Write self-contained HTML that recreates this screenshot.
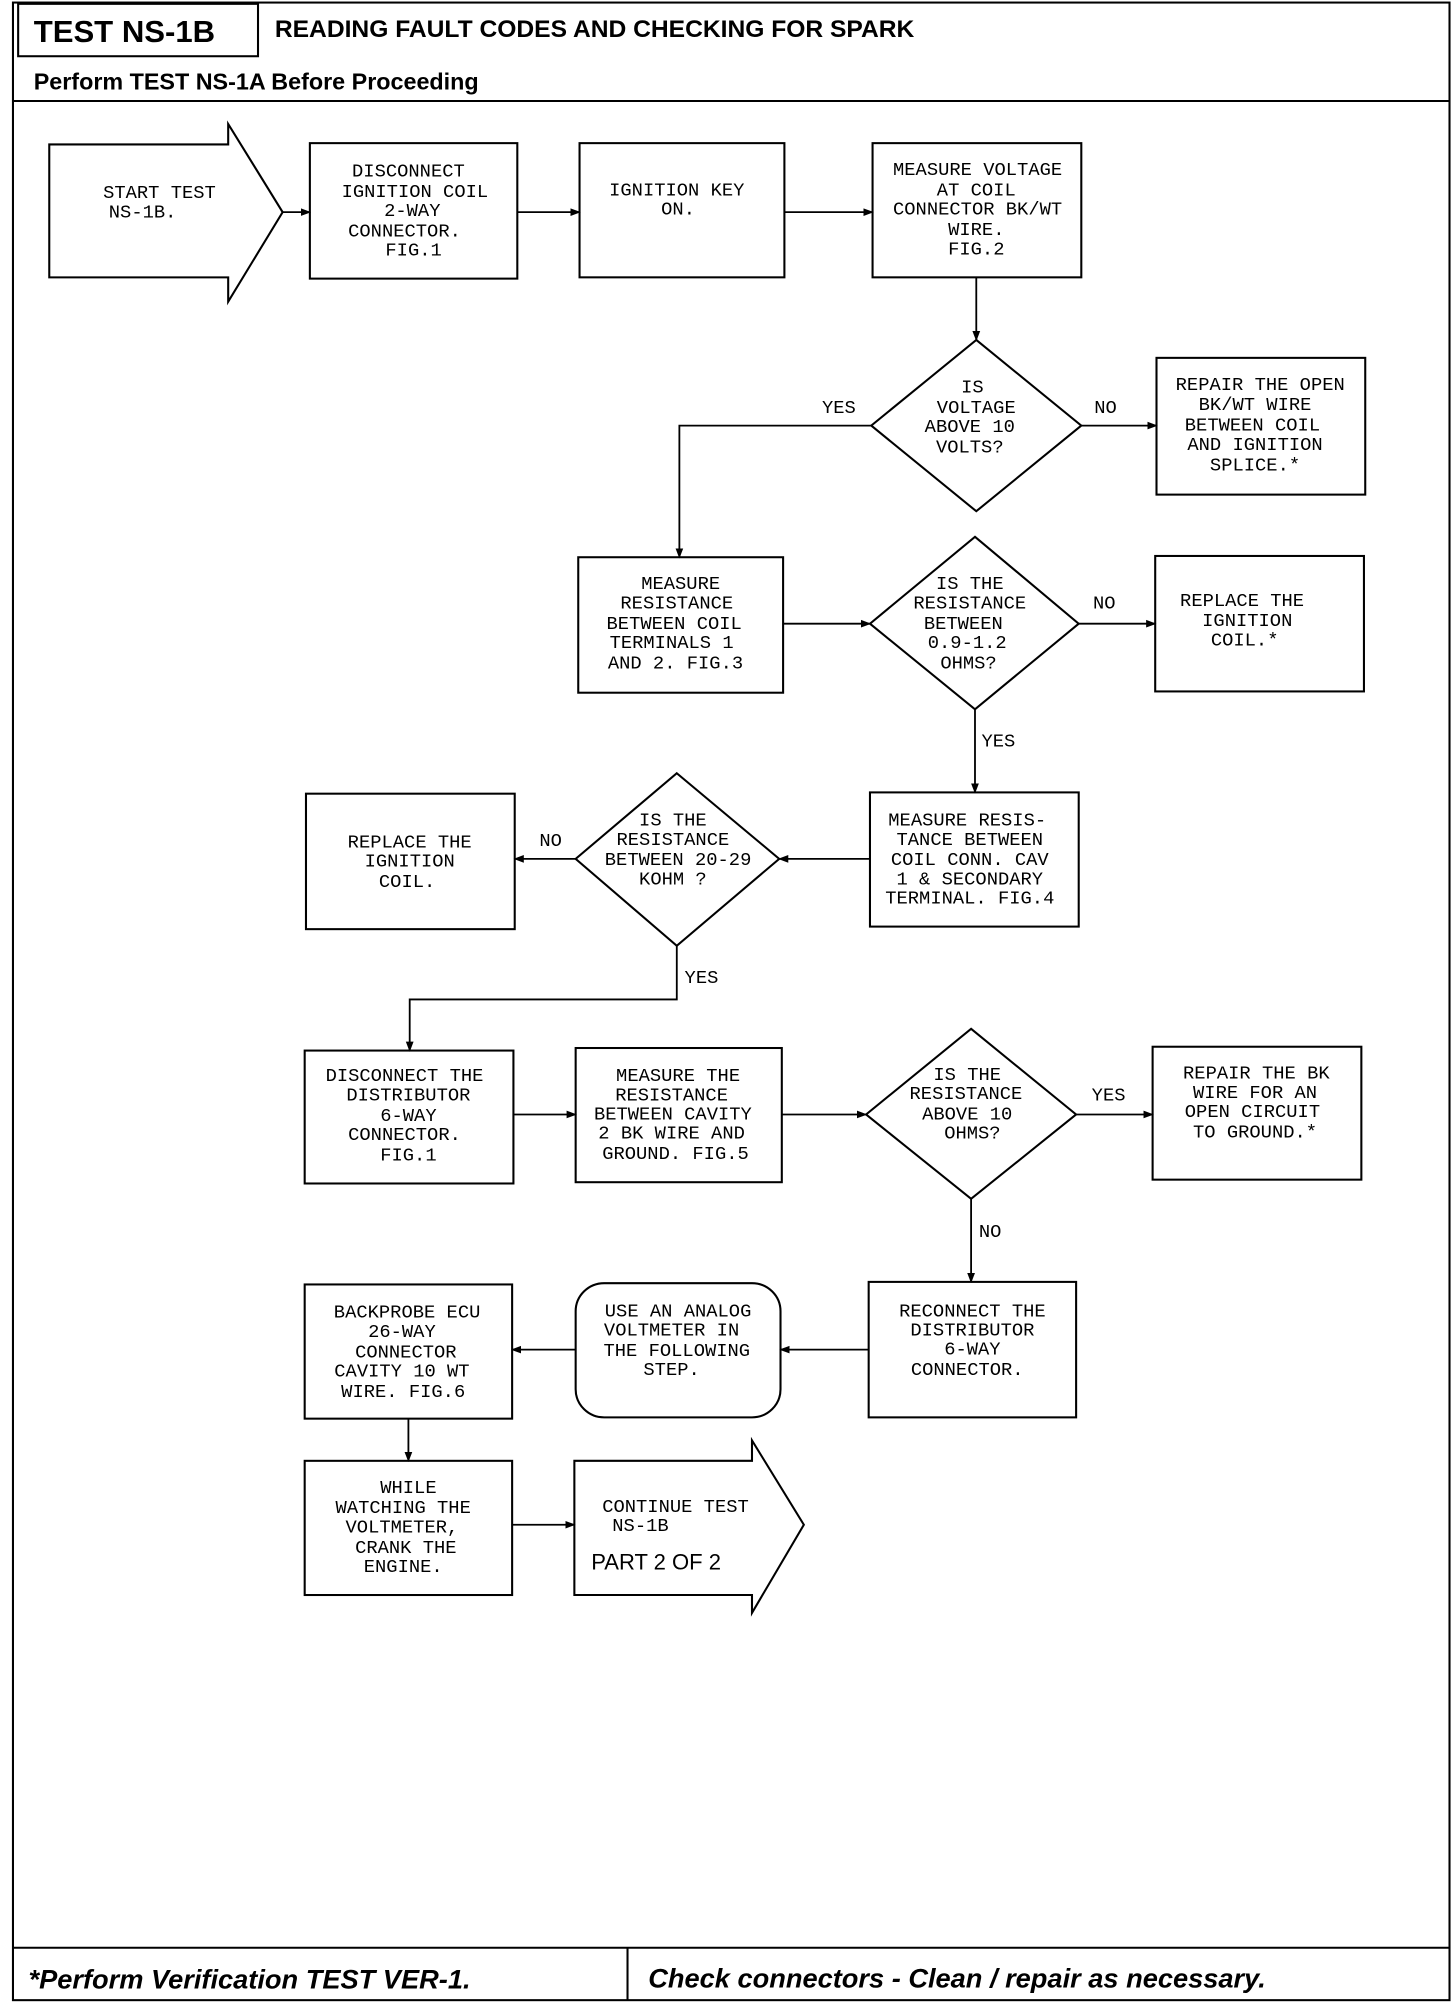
<!DOCTYPE html>
<html><head><meta charset="utf-8"><style>
html,body{margin:0;padding:0;background:#fff;}
svg{display:block;}
.t{font-family:"Liberation Mono",monospace;font-size:14.5px;fill:#000;text-anchor:middle;}
.l{font-family:"Liberation Mono",monospace;font-size:14.5px;fill:#000;}
</style></head><body>
<svg width="1456" height="2004" viewBox="0 0 1123 1568" preserveAspectRatio="none" xmlns="http://www.w3.org/2000/svg">
<defs><marker id="a" markerWidth="8" markerHeight="8" refX="7" refY="4" orient="auto" markerUnits="userSpaceOnUse"><path d="M0,1 L8,4 L0,7z" fill="#000"/></marker></defs>
<g fill="none" stroke="#000" stroke-width="1.6">
<rect x="10" y="2" width="1108" height="1563"/>
<rect x="14" y="3" width="185" height="41"/>
<line x1="10" y1="79" x2="1118" y2="79"/>
<line x1="10" y1="1524" x2="1118" y2="1524"/>
<line x1="484" y1="1524" x2="484" y2="1565"/>
<!-- start arrow -->
<path d="M38,113 H176 V97 L218,166 L176,236 V217 H38 Z"/>
<rect x="239" y="112" width="160" height="106"/>
<rect x="447" y="112" width="158" height="105"/>
<rect x="673" y="112" width="161" height="105"/>
<path d="M753,266 L834,333 L753,400 L672,333 Z"/>
<rect x="892" y="280" width="161" height="107"/>
<rect x="446" y="436" width="158" height="106"/>
<path d="M752,420 L832,488 L752,555 L671,488 Z"/>
<rect x="891" y="435" width="161" height="106"/>
<rect x="671" y="620" width="161" height="105"/>
<path d="M522,605 L601,672 L522,740 L444,672 Z"/>
<rect x="236" y="621" width="161" height="106"/>
<rect x="235" y="822" width="161" height="104"/>
<rect x="444" y="820" width="159" height="105"/>
<path d="M749,805 L830,872 L749,938 L668,872 Z"/>
<rect x="889" y="819" width="161" height="104"/>
<rect x="670" y="1003" width="160" height="106"/>
<rect x="444" y="1004" width="158" height="105" rx="22"/>
<rect x="235" y="1005" width="160" height="105"/>
<rect x="235" y="1143" width="160" height="105"/>
<path d="M443,1143 H580 V1127 L620,1193 L580,1262 V1248 H443 Z"/>
</g>
<g fill="none" stroke="#000" stroke-width="1.4" marker-end="url(#a)">
<line x1="218" y1="166" x2="239" y2="166"/>
<line x1="399" y1="166" x2="447" y2="166"/>
<line x1="605" y1="166" x2="673" y2="166"/>
<line x1="753" y1="217" x2="753" y2="266"/>
<line x1="834" y1="333" x2="892" y2="333"/>
<path d="M672,333 H524 V436"/>
<line x1="604" y1="488" x2="671" y2="488"/>
<line x1="832" y1="488" x2="891" y2="488"/>
<line x1="752" y1="555" x2="752" y2="620"/>
<line x1="671" y1="672" x2="601" y2="672"/>
<line x1="444" y1="672" x2="397" y2="672"/>
<path d="M522,740 V782 H316 V822"/>
<line x1="396" y1="872" x2="444" y2="872"/>
<line x1="603" y1="872" x2="668" y2="872"/>
<line x1="830" y1="872" x2="889" y2="872"/>
<line x1="749" y1="938" x2="749" y2="1003"/>
<line x1="670" y1="1056" x2="602" y2="1056"/>
<line x1="444" y1="1056" x2="395" y2="1056"/>
<line x1="315" y1="1110" x2="315" y2="1143"/>
<line x1="395" y1="1193" x2="443" y2="1193"/>
</g>
<g font-family="Liberation Sans,sans-serif" font-weight="bold">
<text x="26" y="33" font-size="24">TEST NS-1B</text>
<text x="212" y="29" font-size="19">READING FAULT CODES AND CHECKING FOR SPARK</text>
<text x="26" y="70" font-size="18">Perform TEST NS-1A Before Proceeding</text>
<text x="22" y="1556" font-size="21" font-style="italic">*Perform Verification TEST VER-1.</text>
<text x="500" y="1555" font-size="21" font-style="italic">Check connectors - Clean / repair as necessary.</text>
</g>
<g class="t">
<text x="123" y="155">START TEST</text><text x="110" y="170">NS-1B.</text>
<text x="315" y="138">DISCONNECT</text><text x="320" y="154">IGNITION COIL</text><text x="318" y="169">2-WAY</text><text x="312" y="185">CONNECTOR.</text><text x="319" y="200">FIG.1</text>
<text x="522" y="153">IGNITION KEY</text><text x="523" y="168">ON.</text>
<text x="754" y="137">MEASURE VOLTAGE</text><text x="753" y="153">AT COIL</text><text x="754" y="168">CONNECTOR BK/WT</text><text x="753" y="184">WIRE.</text><text x="753" y="199">FIG.2</text>
<text x="750" y="307">IS</text><text x="753" y="323">VOLTAGE</text><text x="748" y="338">ABOVE 10</text><text x="748" y="354">VOLTS?</text>
<text x="972" y="305">REPAIR THE OPEN</text><text x="968" y="321">BK/WT WIRE</text><text x="966" y="337">BETWEEN COIL</text><text x="968" y="352">AND IGNITION</text><text x="968" y="368">SPLICE.*</text>
<text x="525" y="461">MEASURE</text><text x="522" y="476">RESISTANCE</text><text x="520" y="492">BETWEEN COIL</text><text x="518" y="507">TERMINALS 1</text><text x="521" y="523">AND 2. FIG.3</text>
<text x="748" y="461">IS THE</text><text x="748" y="476">RESISTANCE</text><text x="743" y="492">BETWEEN</text><text x="746" y="507">0.9-1.2</text><text x="747" y="523">OHMS?</text>
<text x="958" y="474">REPLACE THE</text><text x="962" y="490">IGNITION</text><text x="960" y="505">COIL.*</text>
<text x="746" y="646">MEASURE RESIS-</text><text x="748" y="661">TANCE BETWEEN</text><text x="748" y="677">COIL CONN. CAV</text><text x="748" y="692">1 &amp; SECONDARY</text><text x="748" y="707">TERMINAL. FIG.4</text>
<text x="519" y="646">IS THE</text><text x="519" y="661">RESISTANCE</text><text x="523" y="677">BETWEEN 20-29</text><text x="519" y="692">KOHM ?</text>
<text x="316" y="663">REPLACE THE</text><text x="316" y="678">IGNITION</text><text x="314" y="694">COIL.</text>
<text x="312" y="846">DISCONNECT THE</text><text x="315" y="861">DISTRIBUTOR</text><text x="315" y="877">6-WAY</text><text x="312" y="892">CONNECTOR.</text><text x="315" y="908">FIG.1</text>
<text x="523" y="846">MEASURE THE</text><text x="518" y="861">RESISTANCE</text><text x="519" y="876">BETWEEN CAVITY</text><text x="518" y="891">2 BK WIRE AND</text><text x="521" y="907">GROUND. FIG.5</text>
<text x="746" y="845">IS THE</text><text x="745" y="860">RESISTANCE</text><text x="746" y="876">ABOVE 10</text><text x="750" y="891">OHMS?</text>
<text x="969" y="844">REPAIR THE BK</text><text x="968" y="859">WIRE FOR AN</text><text x="966" y="874">OPEN CIRCUIT</text><text x="968" y="890">TO GROUND.*</text>
<text x="750" y="1030">RECONNECT THE</text><text x="750" y="1045">DISTRIBUTOR</text><text x="750" y="1060">6-WAY</text><text x="746" y="1076">CONNECTOR.</text>
<text x="523" y="1030">USE AN ANALOG</text><text x="518" y="1045">VOLTMETER IN</text><text x="522" y="1061">THE FOLLOWING</text><text x="518" y="1076">STEP.</text>
<text x="314" y="1031">BACKPROBE ECU</text><text x="310" y="1046">26-WAY</text><text x="313" y="1062">CONNECTOR</text><text x="310" y="1077">CAVITY 10 WT</text><text x="311" y="1093">WIRE. FIG.6</text>
<text x="315" y="1168">WHILE</text><text x="311" y="1184">WATCHING THE</text><text x="310" y="1199">VOLTMETER,</text><text x="313" y="1215">CRANK THE</text><text x="311" y="1230">ENGINE.</text>
<text x="521" y="1183">CONTINUE TEST</text><text x="494" y="1198">NS-1B</text>
</g>
<text x="456" y="1228" font-family="Liberation Sans,sans-serif" font-size="17">PART  2 OF 2</text>
<g class="l">
<text x="634" y="323">YES</text><text x="844" y="323">NO</text>
<text x="843" y="476">NO</text><text x="757" y="584">YES</text>
<text x="416" y="662">NO</text><text x="528" y="769">YES</text>
<text x="842" y="861">YES</text><text x="755" y="968">NO</text>
</g>
</svg>
</body></html>
